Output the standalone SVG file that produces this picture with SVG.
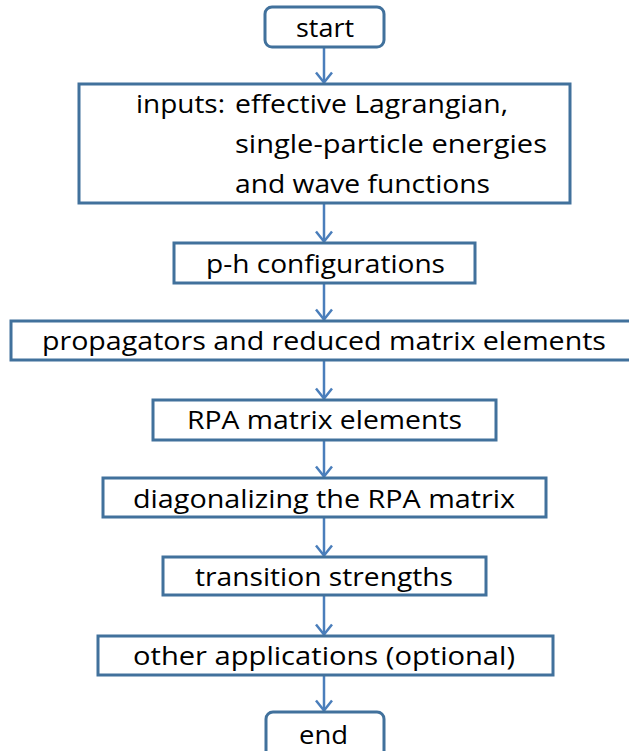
<svg xmlns="http://www.w3.org/2000/svg" width="629" height="751" viewBox="0 0 629 751">
  <style>
    .box { fill: #ffffff; stroke: #41719C; stroke-width: 3; }
    .lbl { font-family: "Open Sans", "Liberation Sans", sans-serif; font-size: 26px; fill: #000000; }
    .conn { stroke: #4A7EBB; stroke-width: 2.5; fill: none; }
  </style>
  <defs>
    <marker id="arr" markerUnits="userSpaceOnUse" markerWidth="24" markerHeight="24" viewBox="-12 -12 24 24" refX="0" refY="0" orient="auto">
      <path d="M-10,-8 L0,0 L-10,8" fill="none" stroke="#4A7EBB" stroke-width="2.5"/>
    </marker>
  </defs>
  <rect width="629" height="751" fill="#ffffff"/>

  <g id="connectors">
    <line class="conn" x1="324" y1="47" x2="324" y2="82.5" marker-end="url(#arr)"/>
    <line class="conn" x1="324" y1="203" x2="324" y2="241.5" marker-end="url(#arr)"/>
    <line class="conn" x1="324" y1="283" x2="324" y2="319.5" marker-end="url(#arr)"/>
    <line class="conn" x1="324" y1="360" x2="324" y2="398.5" marker-end="url(#arr)"/>
    <line class="conn" x1="324" y1="440" x2="324" y2="476.5" marker-end="url(#arr)"/>
    <line class="conn" x1="324" y1="517" x2="324" y2="555.5" marker-end="url(#arr)"/>
    <line class="conn" x1="324" y1="595" x2="324" y2="634.5" marker-end="url(#arr)"/>
    <line class="conn" x1="324" y1="675" x2="324" y2="710.5" marker-end="url(#arr)"/>
  </g>

  <g id="start">
    <rect class="box" x="265" y="7" width="119" height="40" rx="7"/>
    <text class="lbl" x="296" y="36.5" textLength="58" lengthAdjust="spacingAndGlyphs">start</text>
  </g>

  <g id="inputs">
    <rect class="box" x="79" y="84" width="491" height="119"/>
    <text class="lbl" x="136" y="113" textLength="89" lengthAdjust="spacingAndGlyphs">inputs:</text>
    <text class="lbl" x="235" y="113" textLength="273" lengthAdjust="spacingAndGlyphs">effective Lagrangian,</text>
    <text class="lbl" x="235" y="153" textLength="312" lengthAdjust="spacingAndGlyphs">single-particle energies</text>
    <text class="lbl" x="235" y="193" textLength="255" lengthAdjust="spacingAndGlyphs">and wave functions</text>
  </g>

  <g id="ph">
    <rect class="box" x="174" y="243" width="301" height="40"/>
    <text class="lbl" x="206" y="272.5" textLength="239" lengthAdjust="spacingAndGlyphs">p-h configurations</text>
  </g>

  <g id="propagators">
    <rect class="box" x="11" y="321" width="626" height="39"/>
    <text class="lbl" x="42" y="350" textLength="564" lengthAdjust="spacingAndGlyphs">propagators and reduced matrix elements</text>
  </g>

  <g id="rpa">
    <rect class="box" x="153" y="400" width="343" height="40"/>
    <text class="lbl" x="187" y="429" textLength="275" lengthAdjust="spacingAndGlyphs">RPA matrix elements</text>
  </g>

  <g id="diag">
    <rect class="box" x="103" y="478" width="443" height="39"/>
    <text class="lbl" x="133" y="507.5" textLength="382" lengthAdjust="spacingAndGlyphs">diagonalizing the RPA matrix</text>
  </g>

  <g id="transition">
    <rect class="box" x="163" y="557" width="323" height="38"/>
    <text class="lbl" x="195" y="585.5" textLength="258" lengthAdjust="spacingAndGlyphs">transition strengths</text>
  </g>

  <g id="other">
    <rect class="box" x="98" y="636" width="455" height="39"/>
    <text class="lbl" x="133" y="665" textLength="382" lengthAdjust="spacingAndGlyphs">other applications (optional)</text>
  </g>

  <g id="end">
    <rect class="box" x="266" y="712" width="118" height="50" rx="7"/>
    <text class="lbl" x="299" y="743.5" textLength="49" lengthAdjust="spacingAndGlyphs">end</text>
  </g>
</svg>
